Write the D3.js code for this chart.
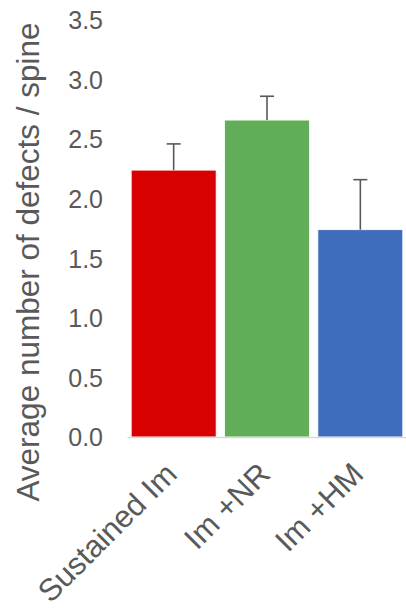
<!DOCTYPE html>
<html><head><meta charset="utf-8">
<script src="https://cdn.jsdelivr.net/npm/d3@7"></script>
<style>body{margin:0;background:#fff}svg{display:block}text{font-family:"Liberation Sans",Arial,sans-serif}</style>
</head><body>
<svg id="c" width="406" height="609"></svg>
<script>
const categories = ["Sustained Im", "Im +NR", "Im +HM"];
const values = [2.24, 2.66, 1.74];
const errorTops = [2.46, 2.86, 2.16];
const colors = ["#d80000", "#62ad57", "#3e6dbd"];
const yTicks = [0, 0.5, 1.0, 1.5, 2.0, 2.5, 3.0, 3.5];
const yTitle = "Average number of defects / spine";

const svg = d3.select("#c");
const x = d3.scaleBand().domain(categories).range([127, 407]).paddingInner(0.09).paddingOuter(0.045);
const y = d3.scaleLinear().domain([0, 3.5]).range([437, 20]);

// bars
svg.selectAll("rect.bar").data(values).join("rect").attr("class","bar")
  .attr("x", (d,i)=>x(categories[i])).attr("width", x.bandwidth())
  .attr("y", d=>y(d)).attr("height", d=>y(0)-y(d))
  .attr("fill", (d,i)=>colors[i]).attr("stroke","#fff").attr("stroke-width",0.8);

// axis line
const xAxis = d3.axisBottom(x).tickSize(0).tickFormat("");
const gx = svg.append("g").attr("transform",`translate(0,${y(0)})`).call(xAxis);
gx.select(".domain").attr("stroke","#d9d9d9").attr("stroke-width",1.5);

// error bars
const eg = svg.append("g").attr("stroke","#595959").attr("stroke-width",1.6);
errorTops.forEach((e,i)=>{
  const cx = x(categories[i]) + x.bandwidth()/2;
  eg.append("line").attr("x1",cx).attr("x2",cx).attr("y1",y(values[i])).attr("y2",y(e));
  eg.append("line").attr("x1",cx-7).attr("x2",cx+7).attr("y1",y(e)).attr("y2",y(e));
});

// y axis labels
const yAxis = d3.axisLeft(y).tickValues(yTicks).tickFormat(d3.format(".1f")).tickSize(0).tickPadding(0);
const gy = svg.append("g").attr("transform","translate(103,0)").call(yAxis);
gy.select(".domain").remove();
gy.selectAll("text").attr("fill","#595959").style("font-size","25px").attr("dy","0.35em").attr("x",0);

// x labels
categories.forEach((c,i)=>{
  const cx = x(c) + x.bandwidth()/2;
  svg.append("text").attr("transform",`translate(${cx+5},${y(0)+39}) rotate(-45)`)
    .attr("text-anchor","end").attr("fill","#595959").style("font-size","31px").text(c);
});

// y title
svg.append("text").attr("transform","translate(39,262) rotate(-90)")
  .attr("text-anchor","middle").attr("fill","#595959").style("font-size","31.5px").text(yTitle);
</script>
</body></html>
